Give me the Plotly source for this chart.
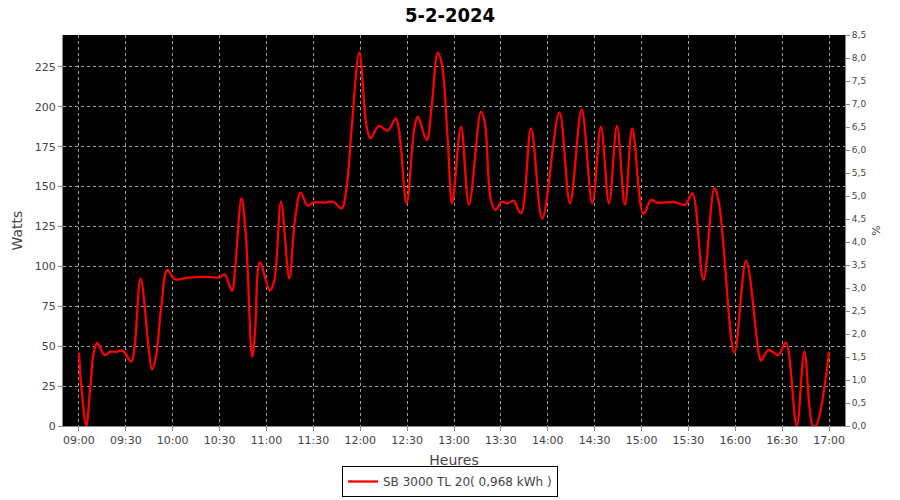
import plotly.graph_objects as go
from datetime import datetime, timedelta

# Minutes after 09:00 and power (W)
minutes = [0, 1.5, 4.7, 7.3, 9.6, 11.7, 16.4, 20, 24, 28, 33.5, 35.6, 39.5, 46.9, 49.5,
           52.7, 56.5, 61.2, 70, 80, 90, 93.2, 97.9, 100, 104, 106.7, 110.9, 112.6, 115.8,
           122.2, 125, 129.3, 134.6, 138.2, 141.9, 146.3, 150, 157, 162.8, 168.1, 171.3,
           174.5, 179.4, 184.1, 186.6, 192, 197.6, 202.7, 204.8, 209.7, 214.6, 216.8,
           222.5, 225.7, 229.6, 232.2, 236, 238.8, 244.5, 249.6, 257.3, 259.8, 263.6,
           266.7, 270.5, 274.3, 278, 282.9, 289.3, 296.5, 307.4, 314.2, 321.7, 328.5,
           334, 339.2, 344.3, 349.4, 354.1, 361.2, 366, 370, 381.4, 387.8, 392.5, 399.6,
           406.6, 409.6, 419.4, 426.9, 435.2, 436.5, 441.2, 447.6, 452.3, 459.3, 464.2,
           469.6, 471.5, 480]
watts = [46, 25, 0, 25, 46.6, 52, 44.5, 46.5, 46.5, 47.2, 40.3, 49.7, 92.5, 35.5, 45,
         74.8, 97.7, 92, 93, 93.5, 93.2, 95, 84.8, 99.8, 142.7, 120.7, 43.4, 58, 102.5,
         84.8, 91, 140.5, 92.5, 129, 146.2, 138, 140, 140, 140.5, 136.4, 150,
         186.5, 234, 187.5, 180.3, 188, 185, 192.8, 185.5, 139.5, 186.5, 193.8,
         179.2, 200, 234, 227, 179, 139.5, 187.5, 138.5, 197, 189.7, 141.6,
         135.3, 140.5, 139.5, 141.2, 133.2, 186.5, 130, 196.3, 139.5, 198.4, 139.5,
         187.5, 139.5, 188, 138.5, 186.5, 132.8, 141.6, 140, 140.3, 138.5, 145.8, 91.5,
         149, 139.5, 46, 103.6, 44.5, 41, 47.6, 44.5, 52.2, 0, 46.6,
         0, 0, 46.6]

series_name = "SB 3000 TL 20( 0,968 kWh )"
title_text = "5-2-2024"
watts_ticks = [0, 25, 50, 75, 100, 125, 150, 175, 200, 225]

base = datetime(2024, 2, 5, 9, 0)
times = [base + timedelta(minutes=m) for m in minutes]

FONT = "DejaVu Sans"
GREY = "#444444"
W, H = 900, 500
L, R, T, B = 63, 845, 35, 426

fig = go.Figure()
fig.add_trace(go.Scatter(
    x=times, y=watts, mode="lines", name=series_name,
    line=dict(color="#ff0000", width=2.3, shape="spline", smoothing=1.0),
))
fig.add_trace(go.Scatter(x=[], y=[], yaxis="y2", showlegend=False, hoverinfo="skip"))

grid = dict(showgrid=True, gridcolor="#a0a0a0", griddash="3px,3px", gridwidth=1)
axl = dict(showline=True, linecolor="#888888", ticks="outside", ticklen=4,
           tickcolor="#888888", zeroline=False, automargin=False)

fig.update_layout(
    width=W, height=H,
    separators=", ",
    paper_bgcolor="white", plot_bgcolor="black",
    margin=dict(l=0, r=0, t=0, b=0, autoexpand=False),
    title=dict(text="<b>" + title_text + "</b>", x=0.5, xanchor="center", y=0.985, yanchor="top",
               font=dict(family="DejaVu Sans Condensed", size=20, color="black")),
    font=dict(family=FONT, size=11, color=GREY),
    xaxis=dict(
        domain=[L / W, R / W],
        range=[base - timedelta(minutes=10.2), base + timedelta(minutes=490.2)],
        tickformat="%H:%M", dtick=30 * 60 * 1000, tick0=base,
        tickfont=dict(size=11, color=GREY),
        title=dict(text="Heures", font=dict(size=14, color=GREY), standoff=8),
        **grid, **axl,
    ),
    yaxis=dict(
        domain=[(H - B) / H, (H - T) / H],
        range=[0, 245], tickvals=watts_ticks,
        tickfont=dict(size=11, color=GREY),
        title=dict(text="Watts", font=dict(size=14, color=GREY), standoff=8),
        **grid, **axl,
    ),
    yaxis2=dict(
        range=[0, 8.5], dtick=0.5, tick0=0, tickformat=".1f",
        overlaying="y", side="right", showgrid=False,
        tickfont=dict(size=9, color=GREY),
        title=dict(text="%", font=dict(size=11, color=GREY), standoff=6),
        **axl,
    ),
    legend=dict(
        orientation="h", x=0.5, xanchor="center", y=3 / H, yanchor="bottom",
        bgcolor="white", bordercolor="black", borderwidth=1, itemwidth=30,
        font=dict(size=12, color=GREY),
    ),
    showlegend=True,
)

fig.write_html(
    "out.html",
    config={"displayModeBar": False},
    post_script="document.body.style.margin='0';document.body.style.overflow='hidden';",
)
